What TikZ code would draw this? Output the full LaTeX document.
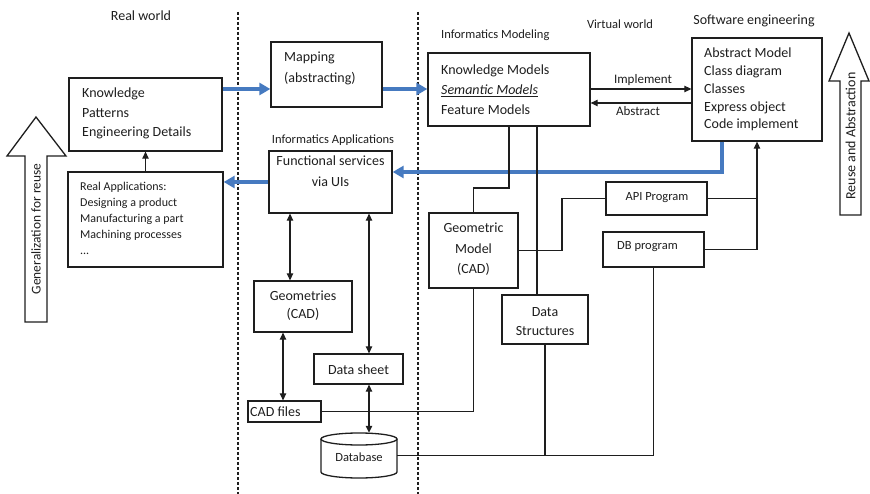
\documentclass[tikz,border=0pt]{standalone}
\usepackage{fontspec}
\setmainfont{Carlito}
\usetikzlibrary{arrows.meta,calc}
\definecolor{bluec}{RGB}{70,122,192}
\definecolor{ink}{RGB}{30,30,30}
\begin{document}
\begin{tikzpicture}[x=1pt,y=-1pt,
  box/.style={draw=ink, line width=1.3pt, inner sep=0pt},
  txt/.style={inner sep=0pt, text=ink},
  big/.style={font=\fontsize{14}{19.5}\selectfont},
  mid/.style={font=\fontsize{12.5}{16}\selectfont},
  conn/.style={draw=ink, line width=1.2pt},
  arr/.style={conn, -{Triangle[length=7pt,width=6.5pt]}},
  dbl/.style={conn, {Triangle[length=7pt,width=6.5pt]}-{Triangle[length=7pt,width=6.5pt]}},
  bluearr/.style={draw=bluec, line width=3.2pt, -{Triangle[length=11pt,width=12pt]}},
  sep/.style={draw=ink, line width=1.2pt, dash pattern=on 3pt off 2pt},
  hollow/.style={draw=ink, line width=1.3pt, fill=white, line join=miter}
]
\useasboundingbox (0,0) rectangle (870,494);

% helper coordinates
\coordinate (y89) at (0,89);
\coordinate (y103) at (0,103);
\coordinate (y172) at (0,172);
\coordinate (y188) at (0,188);
\coordinate (x283) at (283,0);
\coordinate (x290) at (290,0);
\coordinate (x369) at (369,0);
\coordinate (x509) at (509,0);
\coordinate (x537) at (537,0);
\coordinate (x562) at (562,0);
\coordinate (x722) at (722,0);
\coordinate (x757) at (757,0);

% separators
\coordinate (s1t) at (238,12); \coordinate (s1b) at (238,494);
\coordinate (s2t) at (418,12); \coordinate (s2b) at (418,494);
\draw[sep] (s1t) -- (s1b);
\draw[sep] (s2t) -- (s2b);

% labels
\node[txt, big] (lrw) at (141,16) {Real world};
\node[txt, mid, anchor=west] (lim) at (441,35) {Informatics Modeling};
\node[txt, mid] (lvw) at (620,24) {Virtual world};
\node[txt, big] (lse) at (754,21) {Software engineering};
\node[txt, mid] (lia) at (333,140) {Informatics Applications};

% boxes
\node[box, minimum width=153, minimum height=73] (kn) at (145.5,114.5) {};
\node[txt, big, anchor=west, align=left] (knt) at (82,113.5) {Knowledge\\Patterns\\Engineering Details};

\node[box, minimum width=111, minimum height=65] (map) at (326.5,74.5) {};
\node[txt, big, anchor=west, align=left, font=\fontsize{14}{21}\selectfont] (mapt) at (284,68.5) {Mapping\\(abstracting)};

\node[box, minimum width=162, minimum height=73] (im) at (509,89.5) {};
\node[txt, big, anchor=west, align=left, font=\fontsize{14}{20}\selectfont] (imt) at (441,90) {Knowledge Models\\\underline{\textit{Semantic Models}}\\Feature Models};

\node[box, minimum width=130, minimum height=103] (se) at (757,89.5) {};
\node[txt, anchor=west, align=left, font=\fontsize{14}{17.8}\selectfont] (set) at (704,89.5) {Abstract Model\\Class diagram\\Classes\\Express object\\Code implement};

\node[box, minimum width=123, minimum height=62] (fs) at (330.5,182) {};
\node[txt, align=center, font=\fontsize{14}{21}\selectfont] (fst) at (330.5,171.5) {Functional services\\via UIs};

\node[box, minimum width=155, minimum height=95] (ra) at (145.5,219.5) {};
\node[txt, anchor=west, align=left, font=\fontsize{12}{16}\selectfont] (rat) at (80,218) {Real Applications:\\Designing a product\\Manufacturing a part\\Machining processes\\...};

\node[box, minimum width=98, minimum height=51] (geo) at (303,306.5) {};
\node[txt, align=center, font=\fontsize{14}{18}\selectfont] (geot) at (303,306) {Geometries\\(CAD)};

\node[box, minimum width=89, minimum height=30] (ds) at (358.5,369) {};
\node[txt, big] (dst) at (358.5,370) {Data sheet};

\node[box, minimum width=73, minimum height=21] (cad) at (284.5,411.5) {};
\node[txt, big, anchor=west] (cadt) at (250,412) {CAD files};

\node[inner sep=0pt, minimum width=76, minimum height=45] (db) at (359,455.5) {};
\draw[draw=ink, line width=1.3pt] (321,439) -- (321,472) arc[start angle=180, end angle=0, x radius=38, y radius=6] -- (397,439);
\draw[draw=ink, line width=1.3pt] (359,439) ellipse [x radius=38, y radius=6];
\node[txt, mid] (dbt) at (359,457) {Database};

\node[box, minimum width=89, minimum height=75] (gm) at (473.5,250.5) {};
\node[txt, align=center, font=\fontsize{14}{20.5}\selectfont] (gmt) at (473.5,249.5) {Geometric\\Model\\(CAD)};

\node[box, minimum width=86, minimum height=49] (dstr) at (545,319.5) {};
\node[txt, align=center, font=\fontsize{14}{19}\selectfont] (dstrt) at (545,321.5) {Data\\Structures};

\node[box, minimum width=101, minimum height=33] (api) at (656.5,198.5) {};
\node[txt, mid] (apit) at (657,198) {API Program};

\node[box, minimum width=101, minimum height=35] (dbp) at (653.5,249.5) {};
\node[txt, mid, anchor=west] (dbpt) at (617,247) {DB program};

% blue arrows
\draw[bluearr] (kn.east |- y89) -- (map.west |- y89);
\draw[bluearr] (map.east |- y89) -- (im.west |- y89);
\draw[bluearr] (se.south -| x722) |- (fs.east |- y172);
\draw[bluearr] (fs.west) -- (ra.east |- fs.west);

% implement / abstract
\draw[arr] (im.east |- y89) -- (se.west |- y89);
\draw[arr] (se.west |- y103) -- (im.east |- y103);
\node[txt, font=\fontsize{13}{16}\selectfont] (impl) at (643,80) {Implement};
\node[txt, font=\fontsize{13}{16}\selectfont] (abst) at (638,111) {Abstract};

% real world
\draw[arr] (ra.north) -- (kn.south);

% applications
\draw[dbl] (fs.south -| x290) -- (geo.north -| x290);
\draw[dbl] (fs.south -| x369) -- (ds.north -| x369);
\draw[dbl] (geo.south -| x283) -- (cad.north -| x283);
\draw[dbl] (ds.south -| x369) -- (db.north -| x369);

% virtual world connectors
\draw[conn] (cad.east) -| (gm.south);
\draw[conn] (im.south -| x509) -- (x509 |- y188) -- (gm.north |- y188) -- (gm.north);
\draw[conn] (im.south -| x537) -- (dstr.north -| x537);
\draw[conn] (gm.east) -- (x562 |- gm.east) |- (api.west);
\draw[conn] (api.east) -- (api.east -| x757);
\draw[arr] (dbp.east) -| (se.south -| x757);
\draw[conn] (dbp.south) |- (db.east);
\draw[conn] (dstr.south) -- (dstr.south |- db.east);

% big hollow arrows
\draw[hollow] (36,117) -- (66,156) -- (47,156) -- (47,322) -- (25,322) -- (25,156) -- (7,156) -- cycle;
\node[txt, rotate=90, font=\fontsize{13.4}{16}\selectfont] (gen) at (36,229) {Generalization for reuse};
\draw[hollow] (849,33) -- (869,81) -- (861,81) -- (861,215) -- (840,215) -- (840,81) -- (829,81) -- cycle;
\node[txt, rotate=90, font=\fontsize{14}{16}\selectfont] (reu) at (850.5,136) {Reuse and Abstraction};
\end{tikzpicture}
\end{document}
